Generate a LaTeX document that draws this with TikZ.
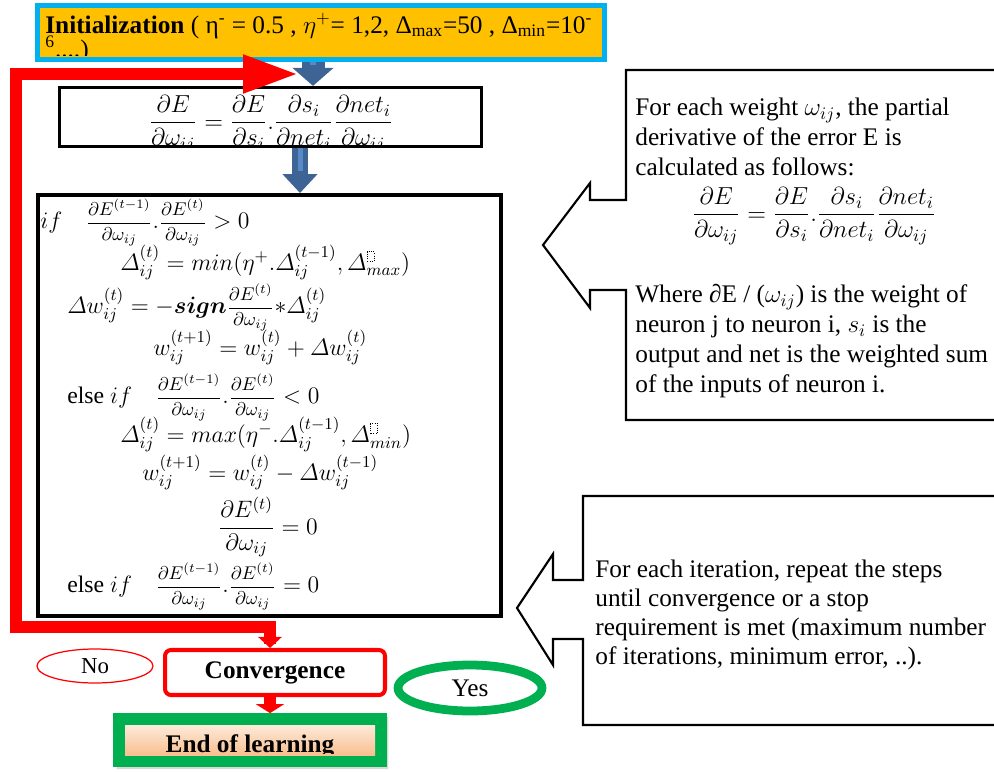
\RequirePackage{fix-cm}
\documentclass[tikz,border=0pt]{standalone}
\usepackage{amsmath}
\usepackage{bm}
\usepackage{fontspec}
\setmainfont{Liberation Serif}
\usetikzlibrary{arrows.meta,shapes.misc,shapes.geometric,shadows}
\definecolor{initorange}{RGB}{255,192,0}
\definecolor{initcyan}{RGB}{0,176,240}
\definecolor{arrdark}{RGB}{62,100,150}
\definecolor{arrlight}{RGB}{86,137,200}
\definecolor{okgreen}{RGB}{0,176,80}
\definecolor{peachtop}{RGB}{253,234,218}
\definecolor{peachbot}{RGB}{249,191,143}
\newcommand{\gfrac}[2]{\text{\fontsize{10.5}{12}\selectfont$\dfrac{#1}{#2}$}}
\newcommand{\phbox}{\tikz\draw[densely dotted,line width=0.3pt] (0,0) rectangle (0.3em,0.4em);}

\begin{document}
\begin{tikzpicture}[x=0.02cm,y=-0.02cm,
		box/.style={draw, inner sep=0pt},
		mline/.style={anchor=base west, inner sep=0pt, font=\fontsize{13.5}{16}\selectfont},
		note/.style={anchor=north west, inner sep=0pt, align=left, font=\fontsize{14.4}{17.1}\selectfont},
		redline/.style={draw=red, line width=6.3pt},
		callout/.style={draw, line width=1.2pt, line join=miter}]
	\useasboundingbox (0,0) rectangle (994,771);
	\begin{scope}
		\node[box, chamfered rectangle, chamfered rectangle corners={north east,south west}, chamfered rectangle xsep=0.2cm, chamfered rectangle ysep=0.22cm, draw=initcyan, fill=initorange, line width=2.6pt, minimum width=11.35cm, minimum height=1.09cm] (init) at (321,32.5) {};
		\begin{scope}
			\clip (38,5) rectangle (604,55);
			\node[anchor=base west, inner sep=0pt, font=\fontsize{14.4}{17}\selectfont] (initA) at (45,33) {\textbf{Initialization} ( η\textsuperscript{-} = 0.5 ,\ $\eta^{+}$= 1,2, Δ\textsubscript{max}=50 ,\ Δ\textsubscript{min}=10\textsuperscript{-}};
			\node[anchor=base west, inner sep=0pt, font=\fontsize{14.4}{17}\selectfont] (initB) at (45,57) {\textsuperscript{6}....)};
		\end{scope}

		\node[box, line width=1.8pt, minimum width=8.44cm, minimum height=1.18cm] (eqtop) at (270.5,117) {};
		\begin{scope}
			\clip (60,88) rectangle (481,146);
			\node[anchor=base, inner sep=0pt, font=\fontsize{14}{17}\selectfont] (eqtopf) at (271,129) {$\dfrac{\partial E}{\partial\omega_{ij}}=\dfrac{\partial E}{\partial s_i}.\dfrac{\partial s_i}{\partial net_i}\dfrac{\partial net_i}{\partial\omega_{ij}}$};
		\end{scope}

		\node[box, line width=2pt, minimum width=9.27cm, minimum height=8.43cm] (upd) at (269.5,405.5) {};
		\node[mline] (ifpos) at (40,228) {$if\quad\gfrac{\partial E^{(t-1)}}{\partial\omega_{ij}}.\gfrac{\partial E^{(t)}}{\partial\omega_{ij}}>0$};
		\node[mline] (dinc) at (120,270) {$\varDelta_{ij}^{(t)}=min(\eta^{+}.\varDelta_{ij}^{(t-1)},\varDelta_{max}^{\phbox})$};
		\node[mline] (dw) at (67,313) {$\varDelta w_{ij}^{(t)}=-\bm{sign}\gfrac{\partial E^{(t)}}{\partial\omega_{ij}}{*}\varDelta_{ij}^{(t)}$};
		\node[mline] (wnew) at (153,355) {$w_{ij}^{(t+1)}=w_{ij}^{(t)}+\varDelta w_{ij}^{(t)}$};
		\node[mline] (ifneg) at (67,403) {else $if\quad\gfrac{\partial E^{(t-1)}}{\partial\omega_{ij}}.\gfrac{\partial E^{(t)}}{\partial\omega_{ij}}<0$};
		\node[mline] (ddec) at (120,442) {$\varDelta_{ij}^{(t)}=max(\eta^{-}.\varDelta_{ij}^{(t-1)},\varDelta_{min}^{\phbox})$};
		\node[mline] (wold) at (142,480) {$w_{ij}^{(t+1)}=w_{ij}^{(t)}-\varDelta w_{ij}^{(t-1)}$};
		\node[mline] (gzero) at (218,534) {$\dfrac{\partial E^{(t)}}{\partial\omega_{ij}}=0$};
		\node[mline] (ifzero) at (67,592) {else $if\quad\gfrac{\partial E^{(t-1)}}{\partial\omega_{ij}}.\gfrac{\partial E^{(t)}}{\partial\omega_{ij}}=0$};

		\draw[arrdark, line width=0.46cm, -{Triangle[width=0.8cm,length=0.36cm]}] (313,0 |- init.south) -- (313,0 |- eqtop.north); % init to gradient
		\draw[arrlight, line width=0.12cm, shorten >=0.42cm] (313,0 |- init.south) -- (313,0 |- eqtop.north);
		\draw[arrdark, line width=0.32cm, -{Triangle[width=0.68cm,length=0.38cm]}] (300,0 |- eqtop.south) -- (300,0 |- upd.north); % gradient to update
		\draw[arrlight, line width=0.1cm, shorten >=0.44cm] (300,0 |- eqtop.south) -- (300,0 |- upd.north);

		\node[draw=red, line width=0.7pt, ellipse, minimum width=2.32cm, minimum height=0.68cm, inner sep=0pt, font=\fontsize{13}{15}\selectfont] (no) at (95,666) {No};
		\node[draw=red, line width=2.3pt, rounded corners=0.12cm, minimum width=4.4cm, minimum height=0.9cm, fill=white, font=\bfseries\fontsize{14.4}{17}\selectfont] (conv) at (275,672.5) {Convergence};
		\node[draw=okgreen, line width=5pt, ellipse, minimum width=2.88cm, minimum height=0.92cm, inner sep=0pt, font=\fontsize{14.4}{17}\selectfont] (yes) at (470,688) {Yes};
		\node[chamfered rectangle, chamfered rectangle corners={north east,south west}, chamfered rectangle xsep=0.2cm, chamfered rectangle ysep=0.2cm, draw=okgreen, fill=okgreen, line width=1pt, minimum width=5.44cm, minimum height=1.04cm, inner sep=0pt, drop shadow={opacity=0.3,shadow xshift=0.05cm,shadow yshift=-0.06cm}] (endl) at (250,740) {};
		\shade[top color=peachtop, bottom color=peachbot] (125,725) rectangle (375,755);
		\begin{scope}
			\clip (125,725) rectangle (375,753);
			\node[anchor=base, inner sep=0pt, font=\bfseries\fontsize{14.4}{17}\selectfont] (endtxt) at (250,752) {End of learning};
		\end{scope}

		\coordinate (jn) at (270,627);
		\coordinate (back) at (298,74);
		\draw[redline, line cap=rect, -{Triangle[width=0.72cm,length=1.1cm]}] (jn) -| (16,74) -- (back); % loop back (No)
		\draw[redline, line width=6.8pt, line cap=rect, -{Triangle[width=0.46cm,length=0.22cm]}] (jn) -- (jn |- conv.north);
		\draw[redline, line width=6.8pt, -{Triangle[width=0.56cm,length=0.18cm]}] (conv.south -| jn) -- (endl.north -| jn); % Yes

		\draw[callout] (994,70) -- (626,70) -- (626,200) -- (590,200) -- (590,183) -- (543,245) -- (590,308) -- (590,290) -- (626,290) -- (626,420) -- (994,420);
		\node[note] (whyA) at (635,98) {For each weight $\omega_{ij}$, the partial\\derivative of the error E is\\calculated as follows:};
		\node[anchor=base, inner sep=0pt, font=\fontsize{14}{17}\selectfont] (whyF) at (814,221) {$\dfrac{\partial E}{\partial\omega_{ij}}=\dfrac{\partial E}{\partial s_i}.\dfrac{\partial s_i}{\partial net_i}\dfrac{\partial net_i}{\partial\omega_{ij}}$};
		\node[note] (whyB) at (635,284) {Where ∂E / ($\omega_{ij}$) is the weight of\\neuron j to neuron i, $s_i$ is the\\output and net is the weighted sum\\of the inputs of neuron i.};

		\draw[callout] (994,496) -- (583,496) -- (583,580) -- (553,580) -- (553,554) -- (517,608) -- (553,665) -- (553,639) -- (583,639) -- (583,725) -- (994,725);
		\node[note, font=\fontsize{14.4}{16.5}\selectfont] (iter) at (595,560) {For each iteration, repeat the steps\\until convergence or a stop\\requirement is met (maximum number\\of iterations, minimum error, ..).};
	\end{scope}
\end{tikzpicture}
\end{document}
